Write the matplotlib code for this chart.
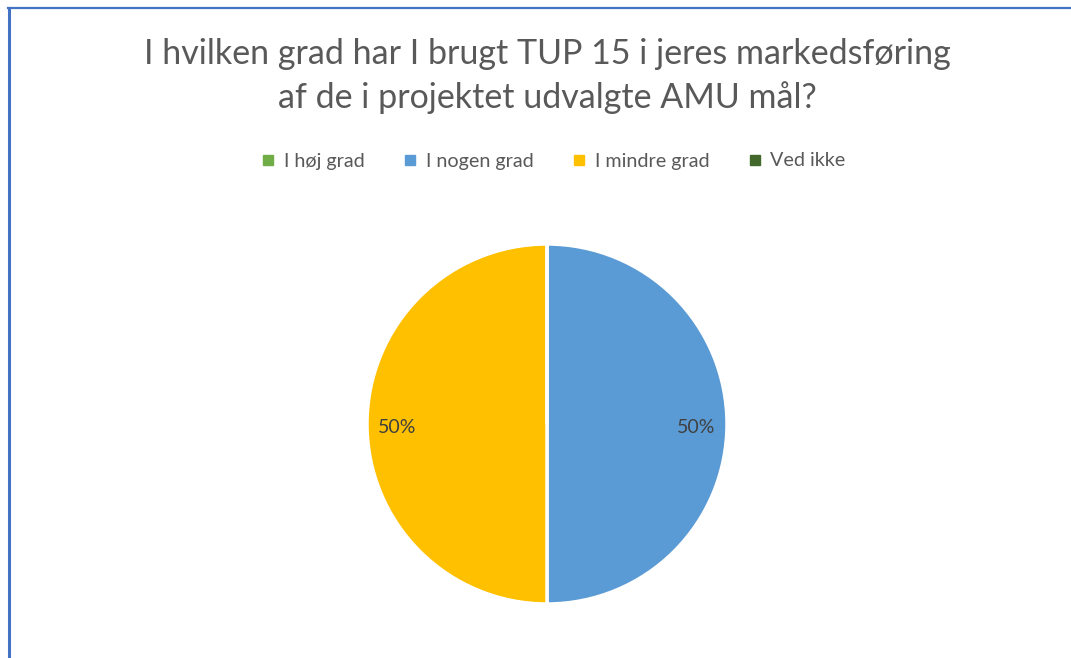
import matplotlib.pyplot as plt
from matplotlib.lines import Line2D

plt.rcParams['font.family'] = ['Lato', 'DejaVu Sans']

# data
categories = ['I høj grad', 'I nogen grad', 'I mindre grad', 'Ved ikke']
values = [0, 50, 50, 0]
colors = ['#70AD47', '#5B9BD5', '#FFC000', '#43682B']
title = 'I hvilken grad har I brugt TUP 15 i jeres markedsføring\naf de i projektet udvalgte AMU mål?'

W, H = 1071, 658
fig = plt.figure(figsize=(W / 100, H / 100), dpi=100)
fig.patch.set_facecolor('white')

# pie axes: center (547, 424), radius 180 px
r = 180
cx, cy = 547, 424
ax = fig.add_axes([(cx - r) / W, 1 - (cy + r) / H, 2 * r / W, 2 * r / H])


def pct(p):
    return f'{p:.0f}%' if p > 0 else ''


wedges, texts, autotexts = ax.pie(
    values, colors=colors, startangle=90, counterclock=False,
    autopct=pct, pctdistance=0.83,
    wedgeprops=dict(edgecolor='white', linewidth=2.5),
    textprops=dict(color='#404040', fontsize=14))
for t in autotexts:
    x, y = t.get_position()
    t.set_position((x, y - 0.02))
ax.set_xlim(-1, 1)
ax.set_ylim(-1, 1)
ax.set_aspect('equal')

fig.text(cx / W, 1 - 76 / H, title, ha='center', va='center',
         fontsize=24.5, color='#595959', linespacing=1.45)

handles = [Line2D([], [], marker='s', linestyle='none', markersize=7,
                  markerfacecolor=c, markeredgecolor=c) for c in colors]
fig.legend(handles, categories, loc='center', bbox_to_anchor=(553 / W, 1 - 161 / H),
           ncol=4, frameon=False, fontsize=14.2, labelcolor='#595959',
           handlelength=0.8, handletextpad=0.4, columnspacing=1.9)

# chart border (left and top edges visible)
fig.add_artist(Line2D([9 / W, 9 / W], [0, 1 - 7.5 / H], color='#4472C4', lw=2.2))
fig.add_artist(Line2D([8 / W, 1], [1 - 7.5 / H, 1 - 7.5 / H], color='#4472C4', lw=1.6))

fig.savefig('out.png', dpi=100, facecolor='white')
